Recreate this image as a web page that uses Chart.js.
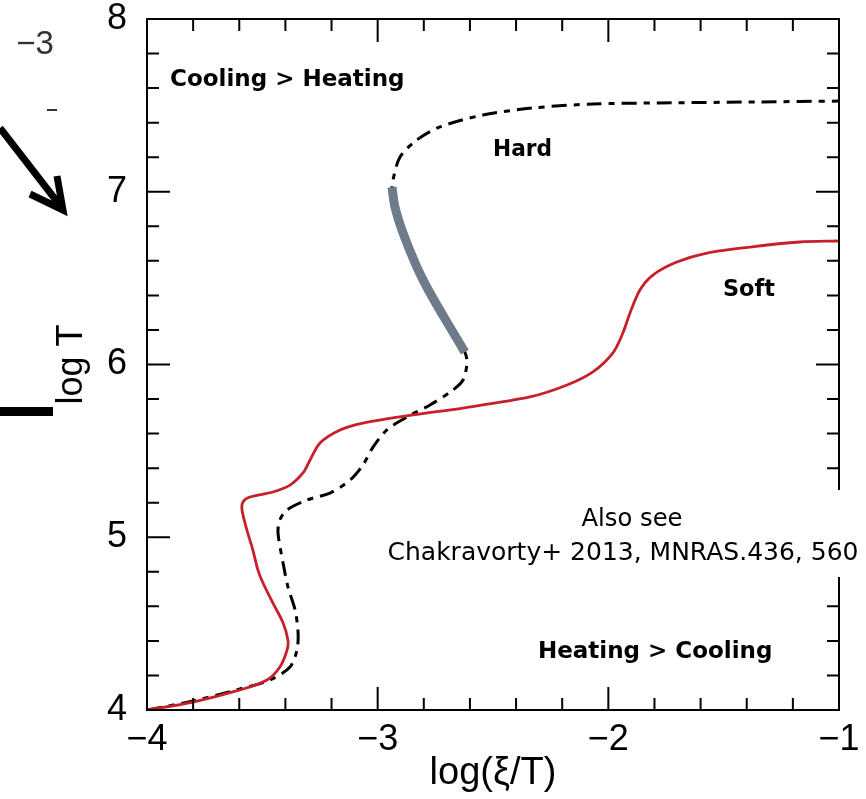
<!DOCTYPE html>
<html>
<head>
<meta charset="utf-8">
<script src="https://cdn.jsdelivr.net/npm/chart.js@4.4.1/dist/chart.umd.min.js"></script>
<style>
  html, body { margin: 0; padding: 0; background: #fff; }
</style>
</head>
<body>
<canvas id="chart" width="866" height="799"></canvas>
<script>
// soft spectrum equilibrium curve (red)
const softX = [-4.000, -3.801, -3.597, -3.480, -3.424, -3.393, -3.389, -3.410, -3.454, -3.497,
  -3.519, -3.541, -3.567, -3.588, -3.584, -3.554, -3.454, -3.380, -3.324, -3.293,
  -3.250, -3.163, -3.064, -2.847, -2.630, -2.340, -2.179, -2.067, -1.980, -1.937,
  -1.906, -1.863, -1.807, -1.703, -1.573, -1.386, -1.170, -1.000];
const softY = [4.000, 4.046, 4.116, 4.174, 4.249, 4.347, 4.405, 4.504, 4.619, 4.735,
  4.810, 4.926, 5.042, 5.158, 5.204, 5.233, 5.262, 5.302, 5.372, 5.447,
  5.546, 5.621, 5.661, 5.708, 5.748, 5.812, 5.881, 5.957, 6.067, 6.182,
  6.298, 6.431, 6.518, 6.593, 6.645, 6.680, 6.709, 6.715];

// hard spectrum equilibrium curve (dashed)
const hardX = [-4.000, -3.801, -3.597, -3.467, -3.380, -3.350, -3.345, -3.358, -3.389, -3.410,
  -3.432, -3.424, -3.393, -3.306, -3.207, -3.120, -3.064, -3.020, -2.960, -2.873,
  -2.773, -2.674, -2.630, -2.613, -2.622, -2.687, -2.773, -2.830, -2.890, -2.925,
  -2.938, -2.934, -2.903, -2.830, -2.730, -2.544, -2.327, -2.067, -1.776, -1.343, -1.000];
const hardY = [4.000, 4.052, 4.122, 4.174, 4.249, 4.347, 4.446, 4.579, 4.712, 4.851,
  5.025, 5.100, 5.158, 5.216, 5.256, 5.331, 5.418, 5.522, 5.621, 5.696,
  5.766, 5.852, 5.910, 6.009, 6.072, 6.217, 6.414, 6.564, 6.761, 6.912,
  7.027, 7.068, 7.201, 7.300, 7.375, 7.444, 7.485, 7.508, 7.514, 7.520, 7.525];

// unstable branch highlighted in grey
const greyX = [-2.622, -2.687, -2.773, -2.830, -2.890, -2.925, -2.938];
const greyY = [6.072, 6.217, 6.414, 6.564, 6.761, 6.912, 7.027];

const xTicks = [-4, -3, -2, -1];
const yTicks = [4, 5, 6, 7, 8];

const pts = (xs, ys) => xs.map((v, i) => ({ x: v, y: ys[i] }));
const minus = v => (v < 0 ? '\u2212' + Math.abs(v) : String(v));

const framePlugin = {
  id: 'frame',
  afterDraw(chart) {
    const { ctx, chartArea: a, scales: { x, y } } = chart;
    ctx.save();
    ctx.strokeStyle = '#000';
    ctx.lineWidth = 2;
    ctx.strokeRect(a.left, a.top, a.right - a.left, a.bottom - a.top);
    ctx.beginPath();
    for (let i = 0; i <= 15; i++) {
      const px = x.getPixelForValue(xTicks[0] + i * 0.2);
      const len = i % 5 === 0 ? 23 : 12;
      ctx.moveTo(px, a.bottom); ctx.lineTo(px, a.bottom - len);
      ctx.moveTo(px, a.top); ctx.lineTo(px, a.top + len);
    }
    for (let i = 0; i <= 20; i++) {
      const py = y.getPixelForValue(yTicks[0] + i * 0.2);
      const len = i % 5 === 0 ? 23 : 12;
      ctx.moveTo(a.left, py); ctx.lineTo(a.left + len, py);
      ctx.moveTo(a.right, py); ctx.lineTo(a.right - len, py);
    }
    ctx.stroke();

    // labels inside the plot
    ctx.fillStyle = '#000';
    ctx.textBaseline = 'middle';
    ctx.textAlign = 'left';
    const fam = '"DejaVu Sans"';
    ctx.font = 'bold 23px ' + fam;
    const notes = [
      ['Cooling > Heating', -3.9, 7.647, 235],
      ['Hard', -2.5, 7.242, 59],
      ['Soft', -1.503, 6.431, 52],
      ['Heating > Cooling', -2.305, 4.336, 237]
    ];
    notes.forEach(([t, vx, vy, w]) => {
      ctx.fillText(t, x.getPixelForValue(vx), y.getPixelForValue(vy), w);
    });

    // reference box
    ctx.fillStyle = '#fff';
    ctx.fillRect(378, 490, 488, 87);
    ctx.fillStyle = '#000';
    ctx.textAlign = 'center';
    ctx.font = '25px ' + fam;
    ctx.fillText('Also see', 632, 519, 101);
    ctx.fillText('Chakravorty+ 2013, MNRAS.436, 560', 623, 553, 480);

    // leftovers from the neighbouring panel
    ctx.fillStyle = '#333';
    ctx.font = '33px "Liberation Sans"';
    ctx.fillText('\u22123', 35, 45);
    ctx.fillRect(47, 109, 10, 2);
    ctx.fillStyle = '#000';
    ctx.fillRect(0, 407, 53, 9);
    ctx.lineWidth = 7;
    ctx.lineCap = 'butt';
    ctx.beginPath();
    ctx.moveTo(0, 128); ctx.lineTo(62, 208);
    ctx.moveTo(30, 194); ctx.lineTo(63, 210); ctx.lineTo(57, 176);
    ctx.stroke();
    ctx.restore();
  }
};

new Chart(document.getElementById('chart'), {
  type: 'scatter',
  data: {
    datasets: [
      {
        data: pts(greyX, greyY),
        showLine: true,
        borderColor: '#6d7b8b',
        borderWidth: 9,
        pointRadius: 0,
        tension: 0.3
      },
      {
        data: pts(softX, softY),
        showLine: true,
        borderColor: '#c8202a',
        borderWidth: 2.8,
        pointRadius: 0,
        tension: 0.3
      },
      {
        data: pts(hardX, hardY),
        showLine: true,
        borderColor: '#000',
        borderWidth: 3,
        borderDash: [15, 7, 6, 7],
        pointRadius: 0,
        tension: 0.3
      }
    ]
  },
  options: {
    responsive: false,
    animation: false,
    events: [],
    layout: { padding: { top: 19, right: 27, left: 0, bottom: 0 } },
    plugins: { legend: { display: false }, tooltip: { enabled: false } },
    scales: {
      x: {
        type: 'linear',
        min: -4,
        max: -1,
        afterFit: s => { s.height = 89; s.paddingLeft = 0; s.paddingRight = 0; },
        afterBuildTicks: s => { s.ticks = xTicks.map(v => ({ value: v })); },
        grid: { display: false, drawTicks: false },
        border: { display: false },
        ticks: {
          padding: 8,
          color: '#000',
          font: { family: '"Liberation Sans"', size: 36 },
          callback: v => minus(v)
        },
        title: {
          display: true,
          text: 'log(\u03be/T)',
          color: '#000',
          font: { family: '"Liberation Sans"', size: 38 },
          padding: { top: 0, bottom: 3 }
        }
      },
      y: {
        type: 'linear',
        min: 4,
        max: 8,
        afterFit: s => { s.width = 147; s.paddingTop = 0; s.paddingBottom = 0; },
        afterBuildTicks: s => { s.ticks = yTicks.map(v => ({ value: v })); },
        grid: { display: false, drawTicks: false },
        border: { display: false },
        ticks: {
          padding: 20,
          color: '#000',
          font: { family: '"Liberation Sans"', size: 36 },
          callback: v => minus(v)
        },
        title: {
          display: true,
          text: 'log T',
          color: '#000',
          font: { family: '"Liberation Sans"', size: 36 },
          padding: { top: 50, bottom: 0 }
        }
      }
    }
  },
  plugins: [framePlugin]
});
</script>
</body>
</html>
